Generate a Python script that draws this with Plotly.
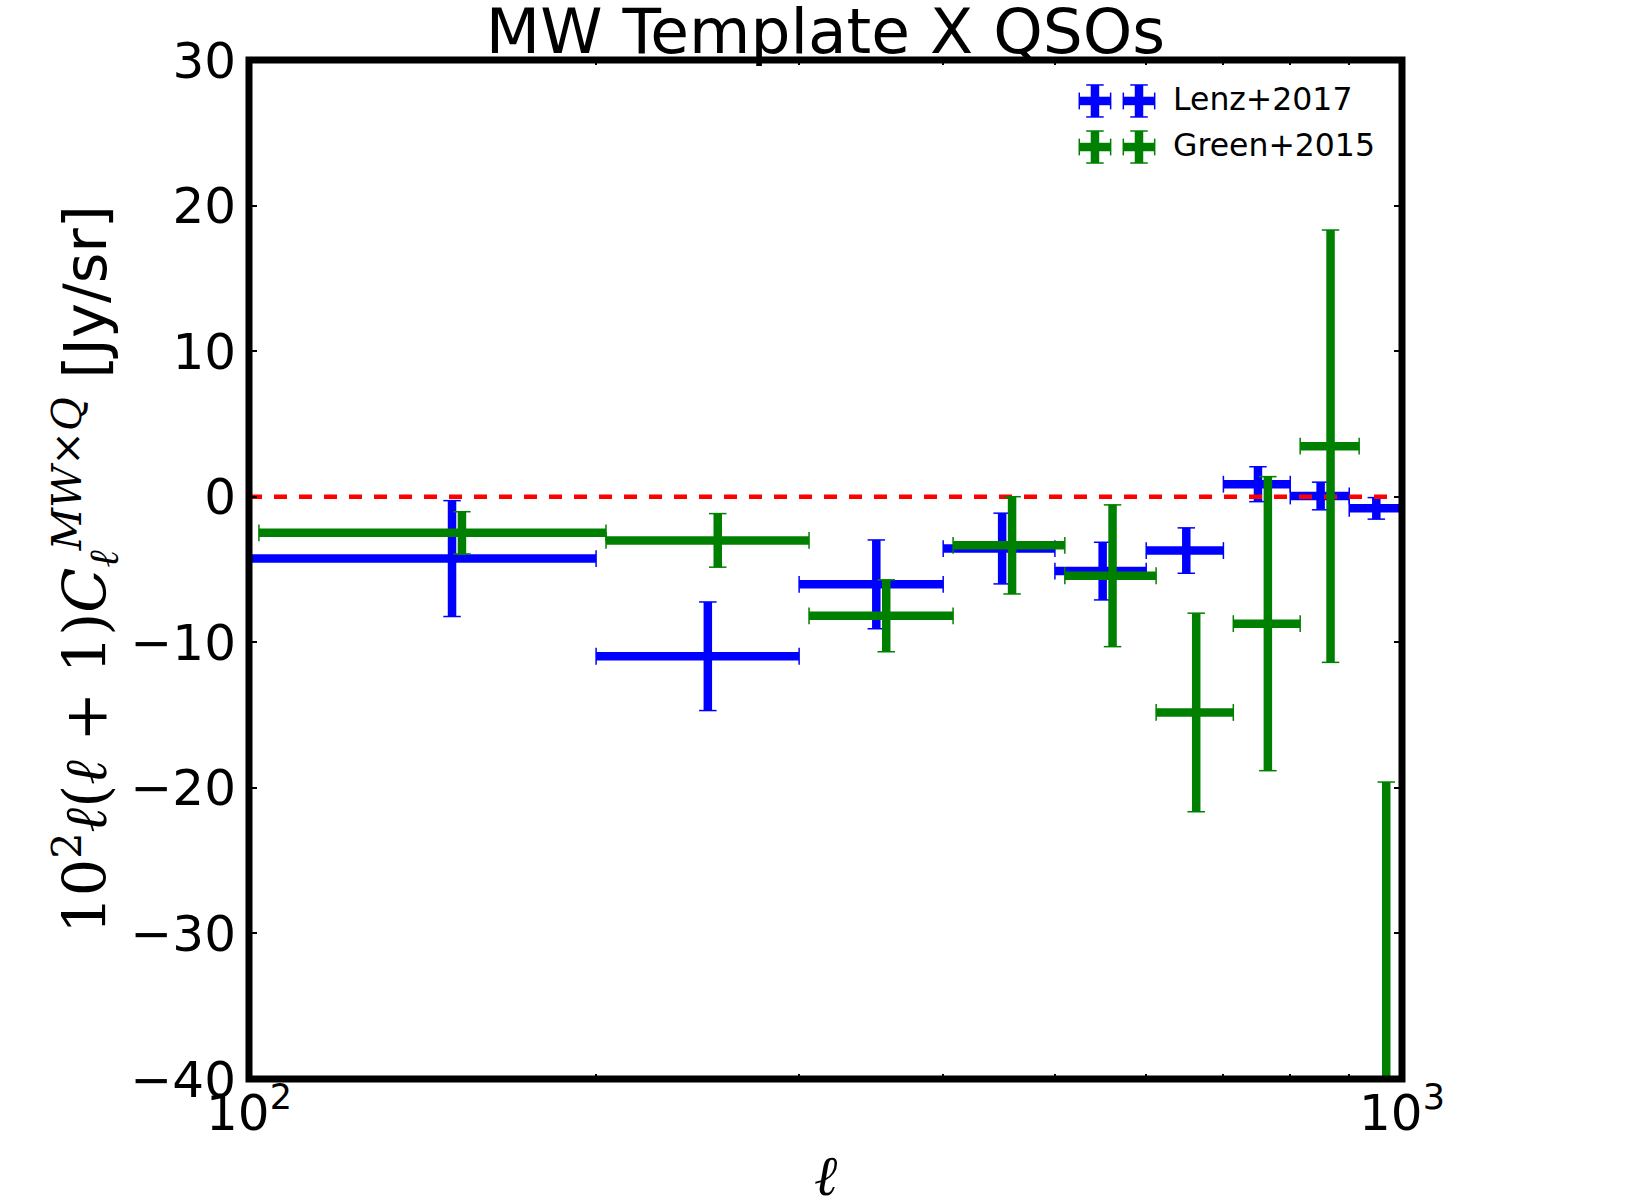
import plotly.graph_objects as go

# ---------------- data ----------------
ell_lenz = [150, 250, 350, 450, 550, 650, 750, 850, 950]
ell_lenz_err = [50, 50, 50, 50, 50, 50, 50, 50, 50]
cl_lenz = [-4.25, -10.96, -6.02, -3.56, -5.11, -3.70, 0.86, 0.05, -0.80]
cl_lenz_err = [3.98, 3.73, 3.05, 2.43, 1.98, 1.56, 1.20, 0.95, 0.74]

ell_green = [153, 255, 357, 459, 561, 663, 765, 867, 969]
ell_green_err = [51, 51, 51, 51, 51, 51, 51, 51, 51]
cl_green = [-2.48, -3.00, -8.18, -3.34, -5.43, -14.82, -8.72, 3.47, -41.4]
cl_green_err = [1.45, 1.84, 2.47, 3.34, 4.87, 6.82, 10.10, 14.85, 21.8]

series_names = ["Lenz+2017", "Green+2015"]
series_colors = ["#0000ff", "#008000"]

y_ticks = [-40, -30, -20, -10, 0, 10, 20, 30]
x_ticks = [100, 1000]
x_ticktext = ["10<sup>2</sup>", "10<sup>3</sup>"]
x_minor = [200, 300, 400, 500, 600, 700, 800, 900]
ref_line_x = [100, 1000]
ref_line_y = [0, 0]

BAR_T = 8.5
fig = go.Figure()


def add_cross(x, xerr, y, yerr, color, xa="x", ya="y"):
    fig.add_trace(go.Scatter(
        x=x, y=y, mode="markers", marker=dict(size=1, color=color),
        error_x=dict(type="data", array=xerr, color=color, thickness=BAR_T, width=0),
        error_y=dict(type="data", array=yerr, color=color, thickness=BAR_T, width=0),
        showlegend=False, hoverinfo="skip", xaxis=xa, yaxis=ya))
    # caps (thin lines at bar ends)
    cx = [xi for xi in x] + [xi for xi in x]
    cy = [yi + e for yi, e in zip(y, yerr)] + [yi - e for yi, e in zip(y, yerr)]
    fig.add_trace(go.Scatter(
        x=cx, y=cy, mode="markers",
        marker=dict(symbol="line-ew", size=12.5, line=dict(color=color, width=1.5)),
        showlegend=False, hoverinfo="skip", xaxis=xa, yaxis=ya))
    hx = [xi + e for xi, e in zip(x, xerr)] + [xi - e for xi, e in zip(x, xerr)]
    hy = [yi for yi in y] + [yi for yi in y]
    fig.add_trace(go.Scatter(
        x=hx, y=hy, mode="markers",
        marker=dict(symbol="line-ns", size=12, line=dict(color=color, width=1.5)),
        showlegend=False, hoverinfo="skip", xaxis=xa, yaxis=ya))


add_cross(ell_lenz, ell_lenz_err, cl_lenz, cl_lenz_err, series_colors[0])
fig.add_trace(go.Scatter(x=ref_line_x, y=ref_line_y, mode="lines",
                         line=dict(color="#ff0000", width=4.5, dash="13px,12px"),
                         showlegend=False, hoverinfo="skip"))
add_cross(ell_green, ell_green_err, cl_green, cl_green_err, series_colors[1])

# ---------------- legend (drawn on an overlay axis in [0,1]) ----------------
leg_x = [0.7337, 0.7719]
leg_rows = [0.9598, 0.9146]
for name, color, row in zip(series_names, series_colors, leg_rows):
    add_cross(leg_x, [0.0136, 0.0136], [row, row], [0.0157, 0.0157], color, "x2", "y2")
    fig.add_annotation(x=0.8000, y=row + 0.002, xref="paper", yref="paper",
                       text=name, showarrow=False, xanchor="left", yanchor="middle",
                       font=dict(family="DejaVu Sans", size=31.5, color="black"))

# spines as a rectangle centred on the plot edges (like matplotlib)
fig.add_shape(type="rect", xref="paper", yref="paper", x0=0, x1=1, y0=0, y1=1,
              line=dict(color="black", width=7), layer="above")

fig.update_layout(
    width=1650, height=1200,
    margin=dict(l=249, r=248, t=60, b=121),
    paper_bgcolor="white", plot_bgcolor="white",
    showlegend=False,
    title=dict(text="MW Template X QSOs", x=0.5, xref="paper", xanchor="center",
               y=0.974, yref="container", yanchor="middle",
               font=dict(family="DejaVu Sans", size=63, color="black")),
    xaxis=dict(type="log", range=[2, 3], tickvals=x_ticks, ticktext=x_ticktext,
               showgrid=False, zeroline=False, showline=False,
               ticks="inside", ticklen=8, tickwidth=1.5, tickcolor="black", mirror="allticks",
               minor=dict(tickvals=x_minor, ticks="inside", ticklen=5, tickcolor="black",
                          showgrid=False),
               tickfont=dict(family="DejaVu Sans", size=50, color="black")),
    yaxis=dict(range=[-40, 30], tickvals=y_ticks, showgrid=False, zeroline=False,
               showline=False, ticks="inside", ticklen=8, tickwidth=1.5, tickcolor="black",
               mirror="allticks", ticklabelstandoff=12,
               tickfont=dict(family="DejaVu Sans", size=50, color="black")),
    xaxis2=dict(overlaying="x", range=[0, 1], visible=False, anchor="y2"),
    yaxis2=dict(overlaying="y", range=[0, 1], visible=False, anchor="x2"),
)

# axis titles
fig.add_annotation(x=0.5, y=-0.095, xref="paper", yref="paper", showarrow=False,
                   text="<i>ℓ</i>", xanchor="center", yanchor="middle",
                   font=dict(family="DejaVu Serif", size=56, color="black"))
fig.add_annotation(
    x=-0.142, y=0.5, xref="paper", yref="paper", showarrow=False, textangle=-90,
    xanchor="center", yanchor="middle",
    text='<span style="font-family:DejaVu Serif">10<sup>2</sup><i>ℓ</i>(<i>ℓ</i> + 1)'
         '<i>C</i><sub><i>ℓ</i></sub><sup><i>MW</i>×<i>Q</i></sup></span> [Jy/sr]',
    font=dict(family="DejaVu Sans", size=59, color="black"))

fig.write_html("out.html")
